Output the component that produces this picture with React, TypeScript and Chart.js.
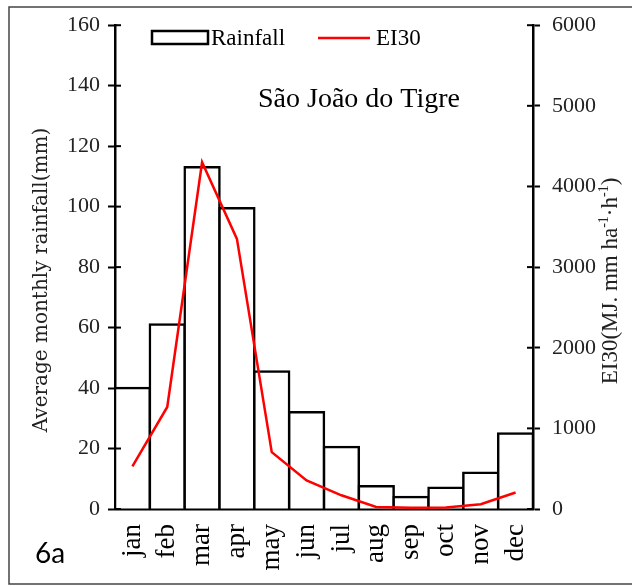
import React, { useEffect, useRef } from 'react';
import { Chart, registerables } from 'chart.js';

Chart.register(...registerables);

const months = ['jan', 'feb', 'mar', 'apr', 'may', 'jun', 'jul', 'aug', 'sep', 'oct', 'nov', 'dec'];
const rainfall = [40, 61, 113, 99.5, 45.5, 32, 20.5, 7.5, 4, 7, 12, 25];
const ei30 = [530, 1265, 4300, 3350, 705, 355, 170, 25, 15, 20, 60, 205];
const rainMin = 0;
const rainMax = 160;
const rainStep = 20;
const eiMin = 0;
const eiMax = 6000;
const eiStep = 1000;
const siteTitle = 'São João do Tigre';
const panelLabel = '6a';
const leftTitle = 'Average monthly rainfall(mm)';
const rightTitleParts: [string, boolean][] = [
  ['EI30(MJ. mm ha', false],
  ['-1', true],
  ['·h', false],
  ['-1', true],
  [')', false],
];
const legendRain = 'Rainfall';
const legendEI = 'EI30';

const SERIF = '"Liberation Serif", "Times New Roman", serif';

const decorPlugin = {
  id: 'decor',
  afterDraw(chart: any) {
    const ctx = chart.ctx as CanvasRenderingContext2D;
    const ya = chart.scales.y;
    const yb = chart.scales.y2;
    const area = chart.chartArea;
    ctx.save();
    // inward tick parts
    ctx.strokeStyle = '#000';
    ctx.lineWidth = 2;
    ya.ticks.forEach((t: any) => {
      const y = ya.getPixelForValue(t.value);
      ctx.beginPath();
      ctx.moveTo(area.left, y);
      ctx.lineTo(area.left + 6, y);
      ctx.stroke();
    });
    yb.ticks.forEach((t: any) => {
      const y = yb.getPixelForValue(t.value);
      ctx.beginPath();
      ctx.moveTo(area.right, y);
      ctx.lineTo(area.right - 6, y);
      ctx.stroke();
    });
    // frame
    ctx.strokeStyle = '#444';
    ctx.lineWidth = 1.5;
    ctx.beginPath();
    ctx.moveTo(640, 7);
    ctx.lineTo(9, 7);
    ctx.lineTo(9, 584);
    ctx.lineTo(640, 584);
    ctx.stroke();

    // legend
    ctx.strokeStyle = '#000';
    ctx.lineWidth = 2.5;
    ctx.fillStyle = '#fff';
    ctx.fillRect(152, 31, 56, 13);
    ctx.strokeRect(152, 31, 56, 13);
    ctx.fillStyle = '#000';
    ctx.font = `23px ${SERIF}`;
    ctx.textBaseline = 'middle';
    ctx.textAlign = 'left';
    ctx.fillText(legendRain, 211, 39);
    ctx.strokeStyle = '#ff0000';
    ctx.lineWidth = 2.5;
    ctx.beginPath();
    ctx.moveTo(318, 38);
    ctx.lineTo(370, 38);
    ctx.stroke();
    ctx.fillText(legendEI, 376, 39);

    // site title
    ctx.font = `28px ${SERIF}`;
    ctx.fillText(siteTitle, 258, 100);

    // panel label
    ctx.font = '28px Lato, "Open Sans", sans-serif';
    ctx.fillText(panelLabel, 35, 554);

    // left axis title
    ctx.save();
    ctx.translate(42, 280);
    ctx.rotate(-Math.PI / 2);
    ctx.textAlign = 'center';
    ctx.font = '20px "DejaVu Serif", serif';
    ctx.fillStyle = '#222';
    ctx.fillText(leftTitle, 0, 0);
    ctx.restore();

    // right axis title
    ctx.save();
    ctx.translate(611, 281);
    ctx.rotate(-Math.PI / 2);
    ctx.fillStyle = '#222';
    const normalFont = `23px ${SERIF}`;
    const supFont = `14px ${SERIF}`;
    let total = 0;
    rightTitleParts.forEach(([s, sup]) => {
      ctx.font = sup ? supFont : normalFont;
      total += ctx.measureText(s).width;
    });
    let x = -total / 2;
    ctx.textAlign = 'left';
    rightTitleParts.forEach(([s, sup]) => {
      ctx.font = sup ? supFont : normalFont;
      ctx.fillText(s, x, sup ? -7 : 0);
      x += ctx.measureText(s).width;
    });
    ctx.restore();

    ctx.restore();
  },
};

export default function App() {
  const ref = useRef<HTMLCanvasElement | null>(null);
  useEffect(() => {
    document.body.style.margin = '0';
    const canvas = ref.current;
    if (!canvas) return;
    const chart = new Chart(canvas, {
      type: 'bar',
      data: {
        labels: months,
        datasets: [
          {
            type: 'line',
            label: legendEI,
            data: ei30,
            yAxisID: 'y2',
            borderColor: '#ff0000',
            borderWidth: 2.5,
            pointRadius: 0,
            tension: 0,
            clip: false as any,
            order: 0,
          } as any,
          {
            type: 'bar',
            label: legendRain,
            data: rainfall,
            yAxisID: 'y',
            backgroundColor: '#ffffff',
            borderColor: '#000000',
            borderWidth: 2.5,
            inflateAmount: 1.25,
            barPercentage: 1,
            categoryPercentage: 1,
            order: 1,
          } as any,
        ],
      },
      options: {
        animation: false,
        responsive: false,
        maintainAspectRatio: false,
        layout: { padding: { top: 23, left: 0, right: 0, bottom: 0 } },
        plugins: {
          legend: { display: false },
          title: { display: false },
          tooltip: { enabled: false },
        },
        scales: {
          x: {
            grid: { display: false, drawTicks: false },
            border: { display: true, color: '#000', width: 2.5 },
            ticks: {
              color: '#000',
              font: { family: SERIF, size: 27 },
              minRotation: 90,
              maxRotation: 90,
              padding: 15,
              autoSkip: false,
            },
            afterFit: (s: any) => {
              s.height = 78;
            },
          },
          y: {
            position: 'left',
            min: rainMin,
            max: rainMax,
            grid: { drawOnChartArea: false, drawTicks: true, tickLength: 7, tickWidth: 2, tickColor: '#000' },
            border: { display: true, color: '#000', width: 2.5 },
            ticks: {
              stepSize: rainStep,
              color: '#222',
              font: { family: SERIF, size: 22 },
              padding: 8,
              callback: (v: any) => String(v),
            },
            afterFit: (s: any) => {
              s.width = 115;
            },
          },
          y2: {
            position: 'right',
            min: eiMin,
            max: eiMax,
            grid: { drawOnChartArea: false, drawTicks: true, tickLength: 7, tickWidth: 2, tickColor: '#000' },
            border: { display: true, color: '#000', width: 2.5 },
            ticks: {
              stepSize: eiStep,
              color: '#222',
              font: { family: SERIF, size: 22 },
              padding: 12,
              callback: (v: any) => String(v),
            },
            afterFit: (s: any) => {
              s.width = 99;
            },
          },
        },
      },
      plugins: [decorPlugin],
    });
    return () => chart.destroy();
  }, []);
  return <canvas ref={ref} width={632} height={587} style={{ display: 'block' }} />;
}
